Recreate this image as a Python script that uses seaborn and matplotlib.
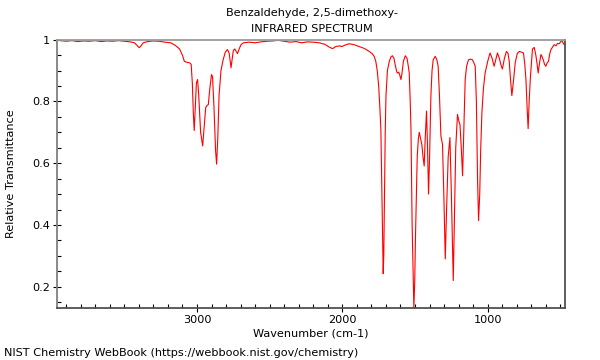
import numpy as np
import pandas as pd
import matplotlib
matplotlib.use("Agg")
import matplotlib.pyplot as plt
from matplotlib.ticker import MultipleLocator, FuncFormatter
import seaborn as sns

# Spectrum points (wavenumber in cm-1, transmittance)
wavenumber = [
    3965, 3940, 3900, 3860, 3820, 3780, 3740, 3700, 3660, 3620, 3580, 3540,
    3500, 3460, 3430, 3410, 3397, 3385, 3370, 3340, 3300, 3260, 3220, 3180,
    3150, 3120, 3100, 3087, 3070, 3050, 3040, 3032, 3025, 3019, 3012, 3004,
    2996, 2988, 2975, 2961, 2950, 2940, 2931, 2922, 2912, 2900, 2893, 2883,
    2872, 2865, 2857, 2848, 2835, 2820, 2805, 2790, 2778, 2770, 2766, 2760,
    2750, 2740, 2730, 2721, 2710, 2697, 2680, 2640, 2600, 2560, 2520, 2480,
    2440, 2400, 2360, 2320, 2280, 2240, 2200, 2160, 2120, 2090, 2067, 2045,
    2020, 2000, 1980, 1953, 1920, 1884, 1850, 1815, 1795, 1781, 1770, 1760,
    1750, 1742, 1735, 1728, 1722, 1719, 1715, 1710, 1705, 1700, 1690, 1677,
    1665, 1655, 1645, 1635, 1625, 1620, 1612, 1605, 1597, 1590, 1580, 1567,
    1555, 1545, 1540, 1533, 1528, 1520, 1508, 1502, 1497, 1491, 1485, 1477,
    1471, 1462, 1453, 1445, 1437, 1430, 1421, 1414, 1407, 1400, 1391, 1383,
    1375, 1361, 1350, 1341, 1332, 1322, 1311, 1302, 1292, 1283, 1272, 1260,
    1250, 1241, 1237, 1230, 1220, 1208, 1198, 1191, 1182, 1173, 1165, 1155,
    1145, 1132, 1118, 1105, 1095, 1086, 1078, 1070, 1063, 1055, 1048, 1040,
    1030, 1018, 1000, 984, 970, 956, 945, 933, 920, 910, 899, 885,
    871, 860, 852, 843, 834, 822, 811, 797, 783, 770, 754, 745,
    737, 729, 722, 715, 706, 692, 680, 669, 660, 653, 645, 634,
    626, 618, 609, 600, 591, 582, 573, 565, 555, 543, 530, 520,
    508, 498, 490, 482, 474, 467,
]
transmittance = [
    1.0, 0.997, 0.995, 0.997, 0.994, 0.996, 0.995, 0.997, 0.994, 0.996, 0.995, 0.997,
    0.995, 0.993, 0.99, 0.98, 0.974, 0.98, 0.99, 0.994, 0.996, 0.995, 0.992, 0.99,
    0.982, 0.97, 0.95, 0.93, 0.927, 0.925, 0.92, 0.86, 0.76, 0.706, 0.78, 0.86,
    0.871, 0.82, 0.70, 0.656, 0.72, 0.78, 0.787, 0.79, 0.84, 0.887, 0.88, 0.78,
    0.64, 0.597, 0.68, 0.82, 0.90, 0.935, 0.96, 0.968, 0.955, 0.925, 0.909, 0.93,
    0.965, 0.97, 0.962, 0.955, 0.97, 0.984, 0.99, 0.992, 0.99, 0.993, 0.995, 0.996,
    0.998, 0.995, 0.992, 0.994, 0.99, 0.993, 0.992, 0.99, 0.985, 0.976, 0.971, 0.978,
    0.98, 0.978, 0.983, 0.987, 0.984, 0.978, 0.972, 0.962, 0.955, 0.946, 0.93, 0.90,
    0.85, 0.78, 0.71, 0.50, 0.32, 0.242, 0.30, 0.50, 0.70, 0.817, 0.90, 0.93,
    0.945, 0.948, 0.94, 0.915, 0.895, 0.892, 0.895, 0.885, 0.871, 0.89, 0.93, 0.948,
    0.94, 0.91, 0.892, 0.80, 0.71, 0.40, 0.13, 0.22, 0.36, 0.495, 0.62, 0.68,
    0.70, 0.68, 0.66, 0.62, 0.591, 0.68, 0.769, 0.65, 0.50, 0.62, 0.817, 0.90,
    0.935, 0.946, 0.935, 0.914, 0.82, 0.688, 0.661, 0.50, 0.29, 0.45, 0.62, 0.683,
    0.50, 0.30, 0.22, 0.40, 0.65, 0.758, 0.735, 0.726, 0.65, 0.559, 0.70, 0.871,
    0.915, 0.935, 0.937, 0.935, 0.925, 0.914, 0.80, 0.55, 0.414, 0.50, 0.65, 0.763,
    0.84, 0.892, 0.93, 0.957, 0.94, 0.914, 0.935, 0.957, 0.94, 0.92, 0.905, 0.94,
    0.962, 0.955, 0.93, 0.87, 0.819, 0.87, 0.925, 0.955, 0.962, 0.96, 0.957, 0.92,
    0.871, 0.78, 0.712, 0.80, 0.882, 0.97, 0.975, 0.95, 0.92, 0.892, 0.92, 0.952,
    0.945, 0.935, 0.92, 0.914, 0.925, 0.93, 0.955, 0.968, 0.975, 0.984, 0.98, 0.988,
    0.987, 0.993, 0.998, 0.99, 0.984, 0.99,
]

df = pd.DataFrame({"wavenumber": wavenumber, "transmittance": transmittance})

sns.set_style("white")
plt.rcParams["font.family"] = ["DejaVu Sans"]
plt.rcParams["text.color"] = "black"
plt.rcParams["axes.labelcolor"] = "black"
plt.rcParams["xtick.color"] = "black"
plt.rcParams["ytick.color"] = "black"
fs = 8.1

fig = plt.figure(figsize=(6, 3.6), dpi=100)
ax = fig.add_axes([0.0945, 0.1436, 0.8475, 0.7461])

sns.lineplot(data=df, x="wavenumber", y="transmittance", color="#ff0000",
             linewidth=0.8, estimator=None, sort=False, ax=ax)

ax.set_xlim(3965, 467)
ax.set_ylim(0.13, 1.0)

ax.xaxis.set_major_locator(MultipleLocator(1000))
ax.xaxis.set_minor_locator(MultipleLocator(100))
ax.yaxis.set_major_locator(MultipleLocator(0.2))
ax.yaxis.set_minor_locator(MultipleLocator(0.05))
ax.yaxis.set_major_formatter(FuncFormatter(lambda v, p: "%g" % round(v, 2)))
ax.tick_params(which="major", direction="inout", length=6, width=0.8,
               color="black", labelcolor="black", labelsize=fs, pad=2,
               bottom=True, left=True)
ax.tick_params(which="minor", direction="in", length=3, width=0.8,
               color="black", bottom=True, left=True)

ax.spines["top"].set_color("#9a9a9a")
ax.spines["left"].set_color("#808080")
ax.spines["bottom"].set_color("#505050")
ax.spines["right"].set_color("#505050")
for s in ax.spines.values():
    s.set_linewidth(1.3)

ax.set_xlabel("Wavenumber (cm-1)", fontsize=fs, labelpad=2)
ax.set_ylabel("Relative Transmittance", fontsize=fs)
ax.yaxis.set_label_coords(-0.081, 0.5)

fig.text(0.52, 0.964, "Benzaldehyde, 2,5-dimethoxy-", ha="center", va="center", fontsize=fs)
fig.text(0.52, 0.919, "INFRARED SPECTRUM", ha="center", va="center", fontsize=fs)
fig.text(0.007, 0.02, "NIST Chemistry WebBook (https://webbook.nist.gov/chemistry)",
         ha="left", va="center", fontsize=fs)

fig.savefig("out.png", dpi=100)
